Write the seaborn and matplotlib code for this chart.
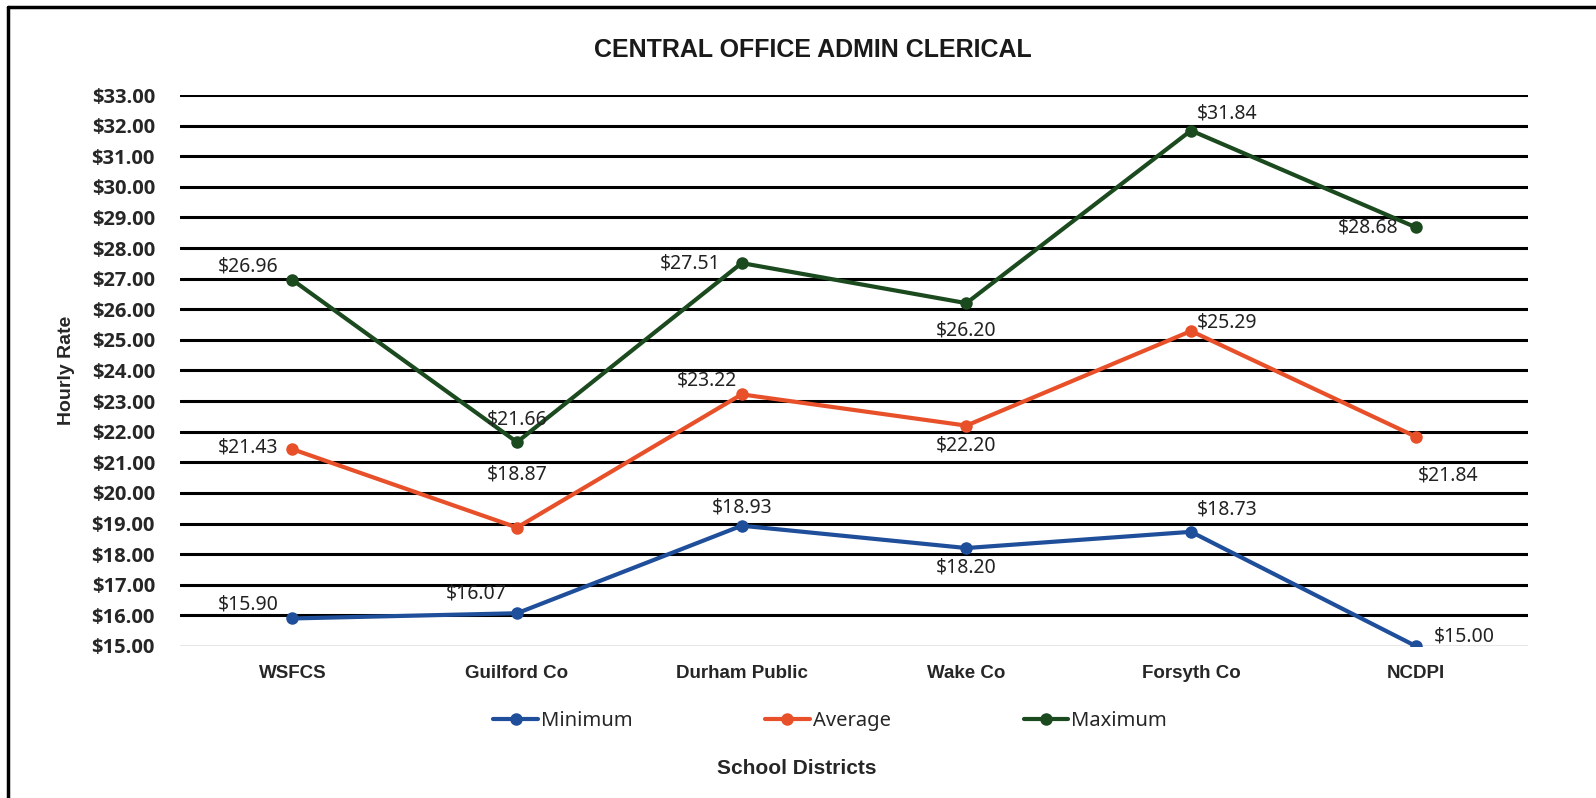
import matplotlib
matplotlib.use("Agg")
import matplotlib.pyplot as plt
import seaborn as sns
import pandas as pd
from matplotlib.lines import Line2D

districts = ["WSFCS", "Guilford Co", "Durham Public", "Wake Co", "Forsyth Co", "NCDPI"]
minimum = [15.90, 16.07, 18.93, 18.20, 18.73, 15.00]
average = [21.43, 18.87, 23.22, 22.20, 25.29, 21.84]
maximum = [26.96, 21.66, 27.51, 26.20, 31.84, 28.68]
series_names = ["Minimum", "Average", "Maximum"]
yticks = [15, 16, 17, 18, 19, 20, 21, 22, 23, 24, 25, 26, 27, 28, 29, 30, 31, 32, 33]

sns.set_theme(style="white")
plt.rcParams['font.family'] = ['Liberation Sans', 'DejaVu Sans']

df = pd.DataFrame({
    "District": districts * 3,
    "Rate": minimum + average + maximum,
    "Series": [s for s in series_names for _ in districts],
})
palette = {"Minimum": "#1F4E9A", "Average": "#E8502A", "Maximum": "#1B4A1F"}

W, H = 1596, 798
fig = plt.figure(figsize=(W / 100, H / 100), dpi=100)
ax = fig.add_axes([180 / W, 1 - 646 / H, (1528 - 180) / W, (646 - 95) / H])

# gridlines
for y in yticks:
    if y == 15:
        ax.axhline(y, color="#e2e2e2", lw=1.2, zorder=1)
    else:
        ax.axhline(y, color="black", lw=2.2, zorder=1)

sns.lineplot(data=df, x="District", y="Rate", hue="Series", palette=palette,
             marker="o", markersize=9, linewidth=3.0, markeredgewidth=0,
             sort=False, ax=ax, zorder=3, legend=False)

ax.set_xlim(-0.5, 5.5)
ax.set_ylim(15, 33)
ax.set_yticks(yticks)
ax.set_yticklabels([f"${v:.2f}" for v in yticks], fontsize=14.5, fontweight="bold",
                   family=['Open Sans', 'DejaVu Sans'])
ax.set_xticks(range(len(districts)))
ax.set_xticklabels(districts, fontsize=13.5, fontweight="bold")
ax.tick_params(axis="x", pad=14, length=0)
ax.tick_params(axis="y", pad=18, length=0)
for s in ax.spines.values():
    s.set_visible(False)

ax.set_ylabel("Hourly Rate", fontsize=14, fontweight="bold", labelpad=12)
ax.set_xlabel("")
fig.text(797 / W, 1 - 768 / H, "School Districts", fontsize=15, fontweight="bold",
         ha="center", va="center")
fig.text(813 / W, 1 - 50 / H, "CENTRAL OFFICE ADMIN CLERICAL", fontsize=18,
         fontweight="bold", ha="center", va="center", color="#1a1a1a")

# data labels: offsets (dx, dy) in points
offsets = {
    "Maximum": [(-32, 10), (0, 16), (-37, 0), (0, -20), (26, 12), (-34, 0)],
    "Average": [(-32, 1), (0, 38), (-25, 10), (0, -14), (26, 6), (23, -28)],
    "Minimum": [(-32, 10), (-29, 14), (0, 13), (0, -14), (26, 16), (35, 7)],
}
vals = {"Minimum": minimum, "Average": average, "Maximum": maximum}
for name in series_names:
    for i, v in enumerate(vals[name]):
        dx, dy = offsets[name][i]
        ax.annotate(f"${v:.2f}", (i, v), xytext=(dx, dy), textcoords="offset points",
                    ha="center", va="center", fontsize=14, color="#222222",
                    family=['Noto Sans', 'DejaVu Sans'], zorder=4)

handles = [Line2D([0], [0], color=palette[n], lw=3.0, marker="o", markersize=9,
                  markeredgewidth=0) for n in series_names]
leg = ax.legend(handles, series_names, loc="center",
                bbox_to_anchor=((830 - 180) / 1348, (1 - 721 / H - (1 - 646 / H)) / ((646 - 95) / H)),
                ncol=3, frameon=False, fontsize=14.5, handlelength=2.2,
                handletextpad=0.15, columnspacing=6.6)
for t in leg.get_texts():
    t.set_family(['Noto Sans', 'DejaVu Sans'])

# outer frame (left and top visible, right/bottom beyond the image)
fig.add_artist(Line2D([8 / W, 8 / W], [0, 1 - 7 / H], transform=fig.transFigure,
                      color="black", lw=2.5))
fig.add_artist(Line2D([8 / W, 1], [1 - 7 / H, 1 - 7 / H], transform=fig.transFigure,
                      color="black", lw=2.5))

fig.savefig("out.png", dpi=100, facecolor="white")
